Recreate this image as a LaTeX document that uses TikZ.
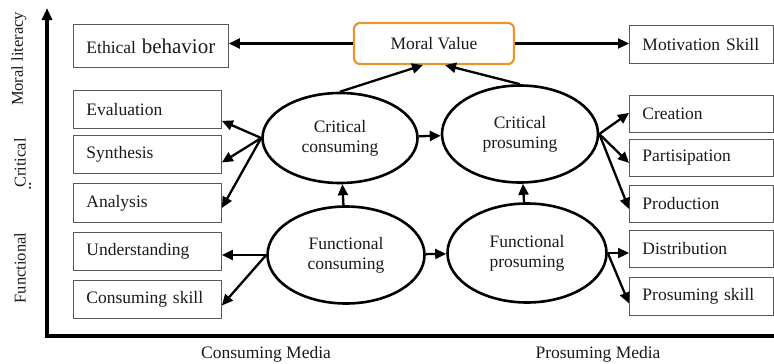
\documentclass[tikz,border=0pt]{standalone}
\usepackage{fontspec}
\setmainfont{Liberation Serif}
\usetikzlibrary{arrows.meta,shapes.geometric,calc}
\newcommand{\fsbox}{\fontsize{17.5}{20}\selectfont}
\newcommand{\fsbig}{\fontsize{21}{23}\selectfont}
\newcommand{\fsaxis}{\fontsize{16.5}{18}\selectfont}
\definecolor{mvorange}{HTML}{E8952F}
\definecolor{txt}{HTML}{1A1A1A}
\begin{document}
\begin{tikzpicture}[x=1pt,y=-1pt,
  box/.style={draw=black!65, line width=0.9pt, inner xsep=13pt, inner ysep=0pt,
    align=left, anchor=north west, font=\fsbox, text=txt},
  lbox/.style={box, text width=122pt, minimum height=38pt},
  rbox/.style={box, text width=118pt, minimum height=37pt},
  ell/.style={ellipse, draw, line width=2.6pt, inner sep=0pt, align=center,
    font=\fsbox, text=txt},
  arr/.style={-{Triangle[length=11pt,width=10pt]}, line width=2.3pt},
  axlab/.style={rotate=90, font=\fsaxis, text=txt, inner sep=0pt}]
\useasboundingbox (0,0) rectangle (774,364);

% axes
\coordinate (o) at (47,336);
\coordinate (ytop) at (47,8);
\coordinate (xend) at (774,336);
\draw[line width=3.2pt, line join=miter, {Triangle[length=12pt,width=10pt]}-] (ytop) -- (o) -- (xend);

% axis labels
\node[axlab] (ml) at (19,59) {Moral literacy};
\node[axlab] (cr) at (20,163) {Critical};
\node[axlab, font=\fontsize{18}{18}\selectfont] (dots) at (30,186) {..};
\node[axlab] (fu) at (20,268) {Functional};
\node[font=\fsbox, text=txt] (cm) at (266,354) {Consuming Media};
\node[font=\fsbox, text=txt] (pm) at (598,354) {Prosuming Media};

% left boxes
\node[box, text width=129pt, minimum height=43pt] (eth) at (73,24) {Ethical {\fsbig behavior}};
\node[lbox] (eval) at (73,90) {Evaluation};
\node[lbox] (syn) at (73,135) {Synthesis};
\node[lbox, minimum height=39pt] (ana) at (73,183) {Analysis};
\node[lbox] (und) at (73,232) {Understanding};
\node[lbox] (cs) at (73,280) {Consuming skill};

% right boxes
\node[rbox, minimum height=38pt] (mot) at (629,25) {Motivation Skill};
\node[rbox] (cre) at (629,95) {Creation};
\node[rbox] (par) at (629,139) {Partisipation};
\node[rbox] (pro) at (629,185) {Production};
\node[rbox] (dis) at (629,230) {Distribution};
\node[rbox, minimum height=38pt] (ps) at (629,277) {Prosuming skill};

% moral value
\node[draw=mvorange, line width=2.2pt, rounded corners=6pt, minimum width=160pt,
  minimum height=41pt, font=\fsbox, text=txt] (mv) at (434,43.5) {Moral Value};

% ellipses
\node[ell, minimum width=155pt, minimum height=90pt] (cc) at (340,138) {Critical\\consuming};
\node[ell, minimum width=156pt, minimum height=97pt] (cp) at (520,134) {Critical\\prosuming};
\node[ell, minimum width=157pt, minimum height=97pt] (fc) at (346,255) {Functional\\consuming};
\node[ell, minimum width=159pt, minimum height=99pt] (fp) at (527,253) {Functional\\prosuming};

% connectors
\draw[arr] (mv.west) -- (mv.west -| eth.east);
\draw[arr] (mv.east) -- (mv.east -| mot.west);
\draw[arr] (cc.north) -- ($(mv.south)+(-11,0)$);
\draw[arr] (cp.north) -- ($(mv.south)+(11,0)$);

\draw[arr] (cc.west) -- ($(eval.south east)+(0,-8)$);
\draw[arr] (cc.west) -- ($(syn.east)+(0,8)$);
\draw[arr] (cc.west) -- ($(ana.east)+(0,5)$);
\draw[arr] (fc.west) -- (fc.west -| und.east);
\draw[arr] (fc.west) -- ($(cs.east)+(0,6)$);

\draw[arr] (cc) -- (cp);
\draw[arr] (fc) -- (fp);
\draw[arr] (fc) -- (cc);
\draw[arr] (fp) -- (cp);

\draw[arr] (cp.east) -- ($(cre.west)+(0,-1)$);
\draw[arr] (cp.east) -- ($(par.west)+(0,5)$);
\draw[arr] (cp.east) -- ($(pro.west)+(0,5)$);
\draw[arr] (fp.east) -- (fp.east -| dis.west);
\draw[arr] (fp.east) -- ($(ps.west)+(0,7)$);
\end{tikzpicture}
\end{document}
